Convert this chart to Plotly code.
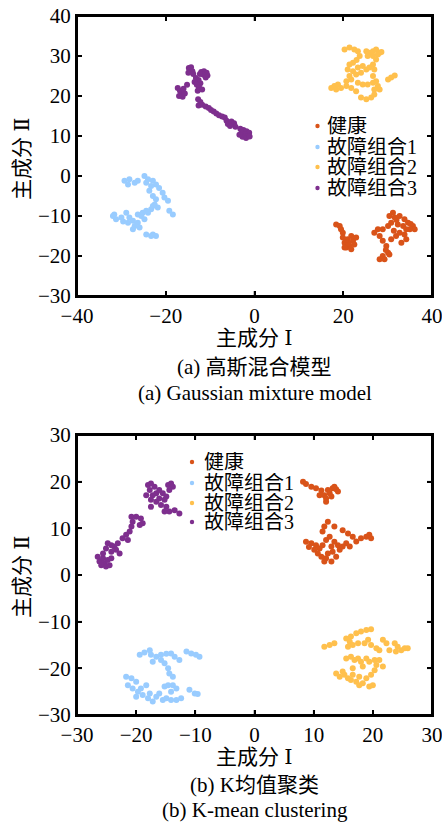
import plotly.graph_objects as go

W, H = 442, 823

names = ["健康", "故障组合1", "故障组合2", "故障组合3"]
colors = ["#D95319", "#99CCFF", "#FFC04D", "#7E2F8E"]

# ---------------- (a) Gaussian mixture model ----------------
gmm_health_x = [18.4, 19.2, 19.5, 19.9, 19.9, 20.3, 20.7, 21.4, 21.0, 21.8, 22.2, 22.9, 21.8, 20.3, 22.5,
                31.2, 30.4, 31.6, 32.7, 33.8, 34.6, 35.7, 36.1, 35.0, 33.5, 32.3, 30.8, 30.1, 28.9, 27.8,
                27.0, 28.2, 28.9, 29.7, 30.8, 31.9, 32.7, 33.8, 34.2, 33.1, 31.4, 34.2,
                30.1, 28.9, 28.2, 29.3, 30.4, 21.2, 20.6, 32.0, 35.2, 29.6]
gmm_health_y = [-12.1, -12.5, -13.3, -14.2, -15.4, -16.7, -17.9, -17.5, -15.8, -15.0, -16.2, -15.4, -18.3, -17.9, -17.1,
                -9.2, -10.0, -10.4, -10.0, -10.8, -11.7, -12.5, -13.3, -13.3, -12.5, -12.1, -11.7, -12.5, -13.3, -13.3,
                -14.2, -15.0, -16.2, -17.5, -15.8, -15.0, -14.2, -14.6, -15.8, -16.7, -13.7, -13.3,
                -19.2, -20.0, -20.8, -20.8, -19.6, -16.8, -16.0, -11.0, -12.0, -18.5]

gmm_f1_x = [-29.3, -28.2, -27.0, -26.3, -28.5, -24.8, -24.0, -22.9, -22.2, -23.3, -24.4,
            -23.7, -22.9, -20.7, -20.3, -19.5, -22.2, -22.5, -23.3, -19.2, -18.4,
            -31.9, -31.2, -31.6, -30.0, -28.9, -28.2, -27.4, -27.0, -28.5, -26.3, -25.5, -25.2, -24.4,
            -26.3, -25.9, -27.4, -24.8, -24.0, -24.4, -23.3, -22.2, -22.9, -22.9, -21.8, -29.6, -21.5]
gmm_f1_y = [-1.2, -0.8, -1.7, -1.2, -2.1, 0.0, -0.8, -1.2, -2.1, -2.5, -1.7,
            -3.7, -5.0, -4.2, -5.4, -6.2, -5.8, -7.1, -8.3, -8.7, -9.6,
            -10.0, -10.8, -9.6, -10.4, -9.2, -10.4, -11.2, -12.5, -11.7, -9.6, -10.0, -9.2, -8.7,
            -11.7, -12.9, -13.3, -10.8, -9.2, -14.6, -15.0, -15.0, -14.6, -7.5, -7.9, -11.4, -3.0]

gmm_f2_x = [20.3, 21.4, 22.5, 23.3, 23.7, 25.2, 25.9, 26.7, 27.4, 28.2, 26.7, 27.8, 25.5,
            22.2, 21.0, 22.2, 23.3, 24.4, 25.2, 25.9, 26.7, 27.0, 21.4, 22.9, 24.0, 20.7, 21.8,
            27.4, 26.7, 17.3, 18.0, 18.8, 19.5, 18.4, 20.7, 21.8,
            23.3, 24.4, 25.5, 26.7, 27.4, 27.8, 27.0, 28.2, 24.0, 25.2, 26.3, 27.0,
            30.1, 30.8, 31.6, 22.9, 21.4, 28.6, 23.0]
gmm_f2_y = [31.6, 32.1, 31.6, 31.2, 30.0, 31.2, 30.8, 31.2, 31.6, 30.8, 30.0, 30.4, 30.0,
            28.3, 26.6, 26.2, 27.1, 27.5, 26.6, 27.1, 27.9, 26.6, 25.0, 25.4, 25.8, 23.7, 24.1,
            29.1, 25.0, 22.0, 22.5, 22.9, 22.0, 21.6, 22.5, 22.0,
            23.3, 22.9, 22.9, 23.3, 23.7, 22.5, 21.6, 21.6, 19.6, 19.2, 19.6, 20.4,
            24.1, 24.6, 25.1, 21.2, 27.9, 31.0, 29.0]

gmm_f3_x = [-14.8, -14.3, -14.6, -14.0, -14.9, -13.8,
            -12.0, -11.4, -10.8, -10.6, -11.5, -12.3, -11.0,
            -13.2, -12.6, -13.5, -12.2, -13.0, -12.5, -11.8, -12.8,
            -17.3, -16.8, -16.5, -17.0, -16.2, -15.7, -16.0, -15.2,
            -12.7, -12.2, -12.6, -11.8, -11.0, -10.3, -9.8, -9.2, -8.6, -8.0, -7.3, -6.7, -6.3, -6.0,
            -5.2, -4.6, -4.3, -5.5,
            -3.2, -2.5, -1.8, -1.2, -2.9, -2.2, -1.5, -2.7, -1.9, -1.1, -3.4]
gmm_f3_y = [27.0, 27.2, 26.5, 26.2, 25.8, 25.5,
            26.0, 26.2, 25.8, 25.1, 25.3, 25.5, 24.6,
            24.5, 24.0, 23.5, 23.2, 22.8, 22.2, 21.6, 21.3,
            22.0, 21.3, 20.5, 20.0, 19.8, 20.6, 21.8, 22.8,
            19.2, 18.5, 17.6, 17.8, 17.4, 17.0, 16.5, 16.1, 15.6, 15.2, 14.9, 14.6, 13.8, 13.0,
            13.6, 13.2, 12.3, 12.5,
            11.8, 11.5, 11.2, 10.8, 10.9, 10.4, 10.0, 9.8, 9.5, 9.9, 10.3]

# ---------------- (b) K-mean clustering ----------------
km_health_x = [8.2, 8.7, 9.6, 10.4, 11.3, 11.0, 11.8, 12.1, 12.4, 12.7, 13.2, 13.8, 14.1, 13.5, 12.1, 13.0,
               12.4, 11.8, 11.5, 13.5, 14.9, 15.8, 16.6, 18.0, 18.9, 19.4, 19.7,
               8.7, 9.6, 10.4, 11.0, 10.1, 10.7, 11.3, 12.1, 13.0, 11.8, 12.4, 13.0, 13.5, 14.1,
               13.2, 14.4, 14.9, 15.5, 16.1, 13.8, 12.1, 11.5, 12.7, 17.2, 9.2]
km_health_y = [20.0, 19.5, 18.9, 18.6, 18.1, 17.1, 17.1, 16.4, 18.2, 17.5, 18.6, 18.4, 17.9, 18.9, 15.7, 16.8,
               11.4, 10.4, 9.3, 10.4, 9.6, 8.9, 8.2, 7.9, 8.2, 8.6, 7.9,
               7.1, 6.8, 6.4, 5.7, 5.4, 4.6, 3.9, 3.6, 2.9, 2.9, 4.6, 6.1, 7.1, 6.4,
               5.0, 5.4, 6.1, 6.8, 6.1, 3.9, 7.5, 6.4, 8.2, 7.2, 6.0]

km_f1_x = [-19.4, -18.6, -17.7, -17.5, -16.6, -15.8, -14.9, -14.1, -13.5, -17.2, -15.8, -15.2, -14.6,
           -14.4, -13.8, -12.7, -11.5, -10.7, -9.9, -9.3,
           -21.7, -20.8, -20.0, -21.4, -20.6, -19.7, -20.0, -18.9, -18.0, -17.2, -17.7, -16.6, -16.1,
           -15.2, -14.6, -13.8, -13.2, -14.1, -14.9, -14.1, -13.2, -12.4, -15.5, -11.0, -10.1, -9.6,
           -19.2, -18.3]
km_f1_y = [-17.1, -16.6, -16.1, -17.1, -17.5, -17.1, -16.9, -16.8, -17.5, -18.6, -18.2, -18.9, -20.0,
           -21.1, -21.8, -18.2, -16.4, -16.8, -17.1, -17.5,
           -21.8, -22.1, -22.9, -23.6, -24.3, -25.0, -26.1, -25.7, -26.4, -27.1, -25.4, -26.1, -25.4,
           -23.9, -23.6, -23.6, -24.3, -25.0, -26.4, -26.8, -26.8, -26.4, -26.8, -24.6, -25.4, -25.5,
           -24.3, -23.6]

km_f2_x = [15.5, 16.3, 17.2, 18.0, 18.9, 19.7, 16.1, 15.8, 16.6, 17.5,
           11.8, 12.7, 13.5,
           18.6, 19.2, 19.7, 20.6, 21.1, 21.7, 22.3, 22.8, 23.7, 24.2, 24.8, 25.4, 25.9, 23.9,
           15.5, 16.3, 16.9, 17.5, 18.0, 18.9, 19.4, 20.3, 20.6, 21.1, 21.7, 20.3, 18.3, 16.6,
           13.8, 14.4, 15.2, 15.8, 14.9, 16.3, 17.2, 17.7, 18.3, 18.9, 19.4, 20.0, 16.6, 17.7, 19.7]
km_f2_y = [-13.6, -13.2, -12.5, -12.1, -11.8, -11.6, -14.3, -15.4, -15.0, -14.6,
           -15.4, -15.0, -14.6,
           -14.6, -13.9, -15.0, -15.7, -16.1, -13.9, -14.6, -16.1, -14.6, -15.4, -16.1, -15.7, -15.7, -16.4,
           -17.9, -17.5, -18.2, -17.9, -18.6, -17.9, -18.6, -18.2, -19.3, -18.2, -19.6, -20.4, -19.6, -20.0,
           -21.1, -21.8, -21.4, -22.1, -20.7, -22.5, -22.9, -23.6, -23.2, -22.1, -23.9, -23.6, -21.4, -21.8, -21.4]

km_f3_x = [-18.0, -17.5, -16.9, -17.7, -17.2, -17.5, -17.5, -16.6, -16.1, -15.5, -14.9, -14.6, -14.1,
           -13.8, -14.4, -15.2, -16.1, -16.6, -14.9, -14.4, -13.5, -12.7, -15.2, -18.3, -15.8,
           -20.8, -20.0, -19.2, -20.6, -20.8, -21.1, -21.7, -22.3, -21.4, -18.9, -19.4,
           -23.1, -23.7, -24.2, -24.8, -25.1, -24.2, -23.4, -22.8,
           -26.5, -26.2, -25.6, -25.4, -24.8, -25.9, -25.1, -24.5, -24.2, -25.6]
km_f3_y = [19.3, 19.6, 18.9, 18.2, 17.1, 16.1, 14.6, 17.5, 18.2, 17.5, 16.8, 19.3, 19.6,
           18.9, 18.2, 16.1, 16.4, 15.7, 14.6, 13.6, 13.9, 13.2, 13.6, 17.1, 15.0,
           12.5, 12.5, 12.1, 11.4, 10.4, 9.3, 8.6, 7.9, 7.5, 11.1, 10.7,
           6.8, 6.1, 6.4, 6.8, 5.7, 5.0, 5.4, 4.6,
           3.9, 2.9, 3.6, 2.5, 3.2, 2.1, 1.8, 2.1, 3.6, 4.6]

gmm_x = [gmm_health_x, gmm_f1_x, gmm_f2_x, gmm_f3_x]
gmm_y = [gmm_health_y, gmm_f1_y, gmm_f2_y, gmm_f3_y]
km_x = [km_health_x, km_f1_x, km_f2_x, km_f3_x]
km_y = [km_health_y, km_f1_y, km_f2_y, km_f3_y]

xaxis_a_ticks = [-40, -20, 0, 20, 40]
yaxis_a_ticks = [-30, -20, -10, 0, 10, 20, 30, 40]
xaxis_b_ticks = [-30, -20, -10, 0, 10, 20, 30]
yaxis_b_ticks = [-30, -20, -10, 0, 10, 20, 30]

x_title = "主成分 Ⅰ"
y_title = "主成分 Ⅱ"
caption_a = ["(a) 高斯混合模型", "(a) Gaussian mixture model"]
caption_b = ["(b) K均值聚类", "(b) K-mean clustering"]

FONT = "Liberation Serif, Times New Roman, DejaVu Serif, Noto Sans CJK SC"

# plot-area geometry in window pixels
PL, PR = 77, 432
A_TOP, A_BOT = 16, 296
B_TOP, B_BOT = 435, 715
TICKLEN = 5


def px(x):
    return x / W


def py(y):
    return 1 - y / H


fig = go.Figure()
for i in range(4):
    fig.add_trace(go.Scatter(x=gmm_x[i], y=gmm_y[i], mode="markers", name=names[i],
                             marker=dict(color=colors[i], size=6, line=dict(width=0)),
                             xaxis="x", yaxis="y", showlegend=False))
for i in range(4):
    fig.add_trace(go.Scatter(x=km_x[i], y=km_y[i], mode="markers", name=names[i],
                             marker=dict(color=colors[i], size=6, line=dict(width=0)),
                             xaxis="x2", yaxis="y2", showlegend=False))

axis_common = dict(showline=True, linecolor="black", linewidth=2, mirror="ticks",
                   ticks="inside", ticklen=TICKLEN, tickwidth=1.5, tickcolor="black",
                   showgrid=False, zeroline=False, automargin=False,
                   ticklabeloverflow="allow",
                   tickfont=dict(family=FONT, size=21, color="black"))

fig.update_layout(
    width=W, height=H,
    margin=dict(l=0, r=0, t=0, b=0),
    paper_bgcolor="white", plot_bgcolor="white",
    xaxis=dict(domain=[px(PL), px(PR)], range=[-40, 40], tickvals=xaxis_a_ticks,
               anchor="y", **axis_common),
    yaxis=dict(domain=[py(A_BOT), py(A_TOP)], range=[-30, 40], tickvals=yaxis_a_ticks,
               anchor="x", **axis_common),
    xaxis2=dict(domain=[px(PL), px(PR)], range=[-30, 30], tickvals=xaxis_b_ticks,
                anchor="y2", **axis_common),
    yaxis2=dict(domain=[py(B_BOT), py(B_TOP)], range=[-30, 30], tickvals=yaxis_b_ticks,
                anchor="x2", **axis_common),
)

ann = []
shapes = []

# frame drawn in paper coordinates, inside ticks on all four sides
for xr, yr, xt, yt, top, bot in (("x", "y", xaxis_a_ticks, yaxis_a_ticks, A_TOP, A_BOT),
                                 ("x2", "y2", xaxis_b_ticks, yaxis_b_ticks, B_TOP, B_BOT)):
    shapes.append(dict(type="rect", xref="paper", yref="paper",
                       x0=px(PL), x1=px(PR), y0=py(bot), y1=py(top),
                       line=dict(color="black", width=2),
                       fillcolor="rgba(0,0,0,0)", layer="above"))
    for v in xt:
        for a, b in ((bot, bot - TICKLEN), (top, top + TICKLEN)):
            shapes.append(dict(type="line", xref=xr, yref="paper", x0=v, x1=v, y0=py(a), y1=py(b),
                               line=dict(color="black", width=1.5), layer="above"))
    for v in yt:
        for a, b in ((PL, PL + TICKLEN), (PR, PR - TICKLEN)):
            shapes.append(dict(type="line", xref="paper", yref=yr, x0=px(a), x1=px(b), y0=v, y1=v,
                               line=dict(color="black", width=1.5), layer="above"))


def text(x, y, t, size=21, xanchor="center", angle=0, height=None):
    d = dict(x=px(x), y=py(y), xref="paper", yref="paper", text=t, showarrow=False,
             xanchor=xanchor, yanchor="middle", textangle=angle,
             font=dict(family=FONT, size=size, color="black"))
    if height is not None:
        d["height"] = height
    ann.append(d)


# axis titles and captions
text(255, 338, x_title)
text(22, 159, y_title, angle=-90)
text(255, 367, caption_a[0])
text(255, 393, caption_a[1])
text(255, 757, x_title)
text(22, 577, y_title, angle=-90)
text(255, 785, caption_b[0])
text(255, 810, caption_b[1])

# legends
leg_a = dict(mx=317.5, tx=325, ys=[126, 147, 167, 188])
leg_b = dict(mx=192, tx=202, ys=[462, 483, 503, 522])
for leg in (leg_a, leg_b):
    for i, yy in enumerate(leg["ys"]):
        r = 2.2
        shapes.append(dict(type="circle", xref="paper", yref="paper",
                           x0=px(leg["mx"] - r), x1=px(leg["mx"] + r),
                           y0=py(yy + r), y1=py(yy - r),
                           fillcolor=colors[i], line=dict(width=0)))
        text(leg["tx"], yy, names[i], size=20, xanchor="left", height=20)

fig.update_layout(annotations=ann, shapes=shapes)
fig.write_html("out.html", config={"displayModeBar": False},
               post_script="document.body.style.margin='0';document.body.style.overflow='hidden';")
